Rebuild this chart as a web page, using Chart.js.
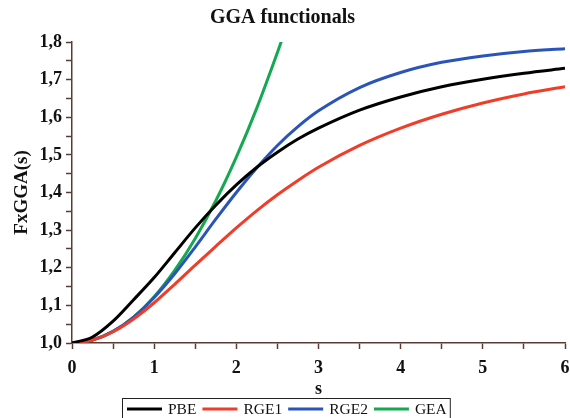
<!DOCTYPE html>
<html>
<head>
<meta charset="utf-8">
<script src="https://cdn.jsdelivr.net/npm/chart.js@4/dist/chart.umd.min.js"></script>
<style>
  html, body { margin: 0; padding: 0; background: #fff; }
  #wrap { width: 570px; height: 418px; }
</style>
</head>
<body>
<div id="wrap"><canvas id="ggaChart" width="570" height="418"></canvas></div>
<script>
// reduced gradient s, shared by PBE / RGE1 / RGE2
const sValues = [0, 0.25, 0.5, 0.75, 1, 1.25, 1.5, 1.75, 2, 2.25, 2.5, 2.75, 3, 3.5, 4, 4.5, 5, 5.5, 6];
const pbeValues = [1.000, 1.016, 1.058, 1.115, 1.174, 1.240, 1.306, 1.366, 1.420, 1.467, 1.507, 1.542, 1.571, 1.619, 1.654, 1.681, 1.701, 1.717, 1.730];
const rge1Values = [1.000, 1.008, 1.030, 1.064, 1.107, 1.156, 1.207, 1.257, 1.306, 1.352, 1.394, 1.432, 1.467, 1.525, 1.571, 1.608, 1.638, 1.662, 1.681];
const rge2Values = [1.000, 1.008, 1.031, 1.069, 1.121, 1.184, 1.255, 1.329, 1.400, 1.466, 1.525, 1.575, 1.617, 1.679, 1.719, 1.746, 1.763, 1.775, 1.782];
// GEA leaves the plot at the top, so it has its own shorter s list
const sGea = [0, 0.25, 0.5, 0.75, 1, 1.25, 1.5, 1.75, 2, 2.25, 2.5, 2.55];
const geaValues = [1.000, 1.008, 1.031, 1.069, 1.123, 1.193, 1.278, 1.378, 1.494, 1.625, 1.772, 1.803];

const seriesLabels = ['PBE', 'RGE1', 'RGE2', 'GEA'];
const seriesColors = ['#000000', '#f03c28', '#2a55b8', '#14a850'];
const axisColor = '#5a3c32';
const serif = "'Liberation Serif', 'Times New Roman', serif";

function toPoints(xs, ys) {
    return xs.map((x, i) => ({ x: x, y: ys[i] }));
}

// legend drawn in a framed row under the axis title
const framedLegend = {
    id: 'framedLegend',
    afterDraw(chart) {
        const ctx = chart.ctx;
        const sets = chart.data.datasets;
        ctx.save();
        ctx.font = '15.5px ' + serif;
        ctx.textBaseline = 'middle';
        const lineLen = 35, gap = 6;
        const startX = 127, midY = 409;
        let x = startX;
        sets.forEach(ds => {
            ctx.strokeStyle = ds.borderColor;
            ctx.lineWidth = 3;
            ctx.beginPath();
            ctx.moveTo(x, midY);
            ctx.lineTo(x + lineLen, midY);
            ctx.stroke();
            x += lineLen + gap;
            ctx.fillStyle = '#111';
            ctx.fillText(ds.label, x, midY + 1);
            x += ctx.measureText(ds.label).width + gap;
        });
        ctx.strokeStyle = '#222';
        ctx.lineWidth = 1;
        ctx.strokeRect(startX - 4.5, 398.5, x - gap - startX + 8, 30);
        ctx.restore();
    }
};

const ctx = document.getElementById('ggaChart').getContext('2d');

const ggaChart = new Chart(ctx, {
    type: 'line',
    data: {
        datasets: [
            { label: seriesLabels[0], data: toPoints(sValues, pbeValues), borderColor: seriesColors[0] },
            { label: seriesLabels[1], data: toPoints(sValues, rge1Values), borderColor: seriesColors[1] },
            { label: seriesLabels[2], data: toPoints(sValues, rge2Values), borderColor: seriesColors[2] },
            { label: seriesLabels[3], data: toPoints(sGea, geaValues), borderColor: seriesColors[3] }
        ]
    },
    options: {
        responsive: false,
        animation: false,
        devicePixelRatio: 1,
        layout: { padding: { left: 0, right: 5, top: 0, bottom: 0 } },
        elements: {
            point: { radius: 0 },
            line: { borderWidth: 3, cubicInterpolationMode: 'monotone', fill: false }
        },
        plugins: {
            legend: { display: false },
            tooltip: { enabled: false },
            title: {
                display: true,
                text: 'GGA functionals',
                color: '#111',
                font: { family: serif, size: 20, weight: 'bold' },
                padding: { top: 6, bottom: 12 }
            }
        },
        scales: {
            x: {
                type: 'linear',
                min: 0,
                max: 6,
                afterFit(scale) {
                    scale.height = 75;
                    scale.paddingLeft = 0;
                    scale.paddingRight = 0;
                },
                ticks: {
                    stepSize: 0.5,
                    padding: 9,
                    color: '#111',
                    maxRotation: 0,
                    autoSkip: false,
                    font: { family: serif, size: 18, weight: 'bold' },
                    callback: v => Math.abs(v - Math.round(v)) < 1e-6 ? String(Math.round(v)) : ''
                },
                grid: {
                    drawOnChartArea: false,
                    drawTicks: true,
                    tickLength: 6,
                    tickColor: axisColor,
                    tickWidth: 1.5
                },
                border: { display: true, color: axisColor, width: 1.5 },
                title: {
                    display: true,
                    text: 's',
                    color: '#111',
                    font: { family: serif, size: 18, weight: 'bold' },
                    padding: { top: 0, bottom: 18 }
                }
            },
            y: {
                min: 1.0,
                max: 1.8,
                afterFit(scale) {
                    scale.width = 72;
                    scale.paddingTop = 0;
                    scale.paddingBottom = 0;
                },
                ticks: {
                    stepSize: 0.05,
                    padding: 4,
                    color: '#111',
                    autoSkip: false,
                    font: { family: serif, size: 18, weight: 'bold' },
                    callback: v => Math.round(v * 100) % 10 === 0 ? v.toFixed(1).replace('.', ',') : ''
                },
                grid: {
                    drawOnChartArea: false,
                    drawTicks: true,
                    tickLength: 6,
                    tickColor: axisColor,
                    tickWidth: 1.5
                },
                border: { display: true, color: axisColor, width: 1.5 },
                title: {
                    display: true,
                    text: 'FxGGA(s)',
                    color: '#111',
                    font: { family: serif, size: 19, weight: 'bold' },
                    padding: { top: 11, bottom: 0 }
                }
            }
        }
    },
    plugins: [framedLegend]
});
</script>
</body>
</html>
